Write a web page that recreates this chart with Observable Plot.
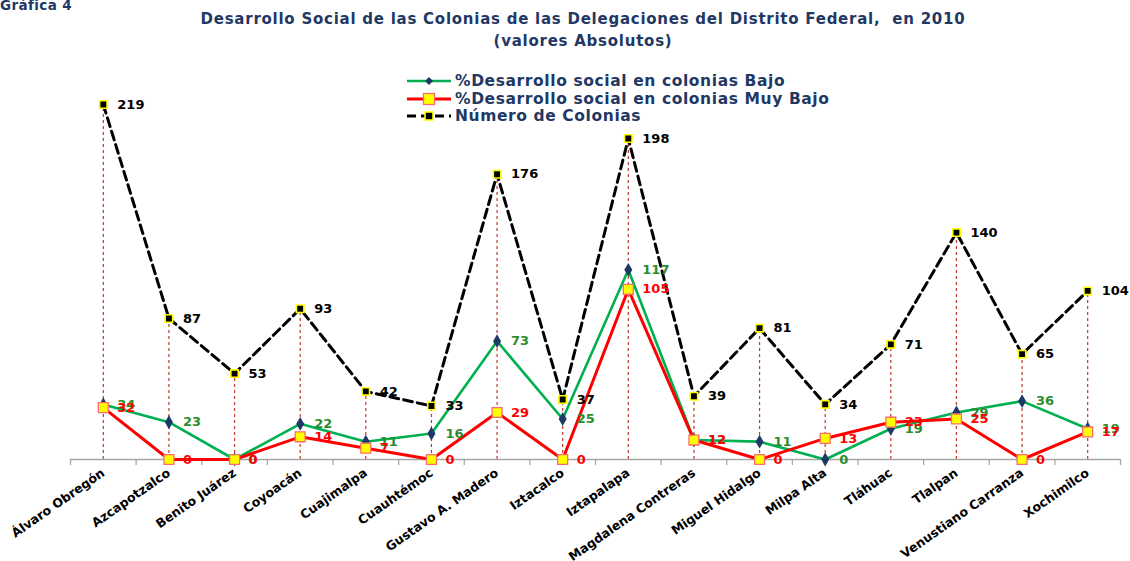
<!DOCTYPE html>
<html>
<head>
<meta charset="utf-8">
<script src="https://cdn.jsdelivr.net/npm/d3@7"></script>
<script src="https://cdn.jsdelivr.net/npm/@observablehq/plot@0.6"></script>
<style>
  body { margin: 0; background: #fff; }
  #wrap { position: relative; width: 1130px; height: 561px; overflow: hidden; font-family: "DejaVu Sans", sans-serif; }
  .num { position: absolute; left: 0; top: -3px; font: bold 13.5px "DejaVu Sans", sans-serif; letter-spacing: 0.4px; color: #1F3864; }
  .title { position: absolute; left: 0; width: 1166px; text-align: center; font: bold 15px "DejaVu Sans", sans-serif; letter-spacing: 0.75px; color: #1F3864; white-space: pre; }
  #chart { position: absolute; left: 0; top: 55px; }
  .legend { position: absolute; left: 407px; top: 72.5px; }
  .legend .row { display: flex; align-items: center; height: 17.5px; font: bold 15.5px "DejaVu Sans", sans-serif; letter-spacing: 0.6px; color: #1F3864; }
  .legend svg { width: 44px; height: 14px; margin-right: 4px; }
</style>
</head>
<body>
<div id="wrap">
  <div class="num">Gráfica 4</div>
  <div class="title" style="top:10px">Desarrollo Social de las Colonias de las Delegaciones del Distrito Federal,  en 2010</div>
  <div class="title" style="top:32px">(valores Absolutos)</div>
  <div id="chart"></div>
  <div class="legend">
    <div class="row">
      <svg viewBox="0 0 44 14"><line x1="0" y1="7" x2="44" y2="7" stroke="#00B050" stroke-width="2.5"/><path d="M22 3 L26 7 L22 11 L18 7 Z" fill="#1F3864"/></svg>
      <span>%Desarrollo social en colonias Bajo</span>
    </div>
    <div class="row">
      <svg viewBox="0 0 44 14"><line x1="0" y1="7" x2="44" y2="7" stroke="#FF0000" stroke-width="3"/><rect x="16.5" y="1.5" width="11" height="11" fill="#FFFF00" stroke="#FF6A6A" stroke-width="1.3"/></svg>
      <span>%Desarrollo social en colonias Muy Bajo</span>
    </div>
    <div class="row">
      <svg viewBox="0 0 44 14"><line x1="0" y1="7" x2="44" y2="7" stroke="#000" stroke-width="3" stroke-dasharray="9,5"/><rect x="18" y="3" width="8" height="8" fill="#000" stroke="#FFFF00" stroke-width="1.6"/></svg>
      <span>Número de Colonias</span>
    </div>
  </div>
</div>
<script>
// Delegaciones del Distrito Federal, 2010
const delegaciones = [
  "Álvaro Obregón", "Azcapotzalco", "Benito Juárez", "Coyoacán", "Cuajimalpa",
  "Cuauhtémoc", "Gustavo A. Madero", "Iztacalco", "Iztapalapa", "Magdalena Contreras",
  "Miguel Hidalgo", "Milpa Alta", "Tláhuac", "Tlalpan", "Venustiano Carranza", "Xochimilco"
];
// Número de colonias por delegación
const numeroColonias = [219, 87, 53, 93, 42, 33, 176, 37, 198, 39, 81, 34, 71, 140, 65, 104];
// Colonias con desarrollo social bajo
const desarrolloBajo = [34, 23, 0, 22, 11, 16, 73, 25, 117, 12, 11, 0, 19, 29, 36, 19];
// Colonias con desarrollo social muy bajo
const desarrolloMuyBajo = [32, 0, 0, 14, 7, 0, 29, 0, 105, 12, 0, 13, 23, 25, 0, 17];

const rows = delegaciones.map((d, i) => ({
  i, delegacion: d,
  total: numeroColonias[i],
  bajo: desarrolloBajo[i],
  muyBajo: desarrolloMuyBajo[i]
}));
const idx = d3.range(delegaciones.length);
const bounds = d3.range(delegaciones.length + 1).map(k => k - 0.5);

const labelFont = {fontWeight: "bold", fontSize: 13, textAnchor: "start", dx: 14};

const chart = Plot.plot({
  width: 1130,
  height: 506,
  marginTop: 49,
  marginBottom: 102,
  marginLeft: 70,
  marginRight: 10,
  x: {type: "linear", domain: [-0.5, delegaciones.length - 0.5], label: null},
  y: {domain: [0, 219], axis: null},
  style: {fontFamily: "DejaVu Sans, sans-serif", background: "transparent", overflow: "visible"},
  marks: [
    // drop lines from each total down to the axis
    Plot.ruleX(rows, {x: "i", y1: 0, y2: "total", stroke: "#C0392B", strokeWidth: 1.2, strokeDasharray: "3,3"}),
    // category axis
    Plot.ruleY([0], {stroke: "#A6A6A6", strokeWidth: 1.5}),
    Plot.axisX(bounds, {tickSize: 6, tickFormat: () => "", label: null, stroke: "#A6A6A6", strokeWidth: 1.3}),
    Plot.axisX(idx, {tickSize: 0, tickPadding: 12, tickRotate: -35, label: null, tickFormat: i => delegaciones[i],
      fontWeight: "bold", fontSize: 12.5, fill: "#000"}),
    // Bajo
    Plot.line(rows, {x: "i", y: "bajo", stroke: "#00B050", strokeWidth: 2.6}),
    Plot.dot(rows, {x: "i", y: "bajo", symbol: "diamond", r: 4.2, fill: "#1F3864"}),
    // Muy Bajo
    Plot.line(rows, {x: "i", y: "muyBajo", stroke: "#FF0000", strokeWidth: 3}),
    Plot.dot(rows, {x: "i", y: "muyBajo", symbol: "square", r: 5.6, fill: "#FFFF00", stroke: "#FF6A6A", strokeWidth: 1.3}),
    // Número de colonias
    Plot.line(rows, {x: "i", y: "total", stroke: "#000", strokeWidth: 3, strokeDasharray: "9,5"}),
    Plot.dot(rows, {x: "i", y: "total", symbol: "square", r: 4.2, fill: "#000", stroke: "#FFFF00", strokeWidth: 1.6}),
    // value labels
    Plot.text(rows, {x: "i", y: "total", text: d => String(d.total), fill: "#000", ...labelFont}),
    Plot.text(rows, {x: "i", y: "bajo", text: d => String(d.bajo), fill: "#2E8B2E", ...labelFont}),
    Plot.text(rows, {x: "i", y: "muyBajo", text: d => String(d.muyBajo), fill: "#FF0000", ...labelFont})
  ]
});
document.getElementById("chart").appendChild(chart);
</script>
</body>
</html>
